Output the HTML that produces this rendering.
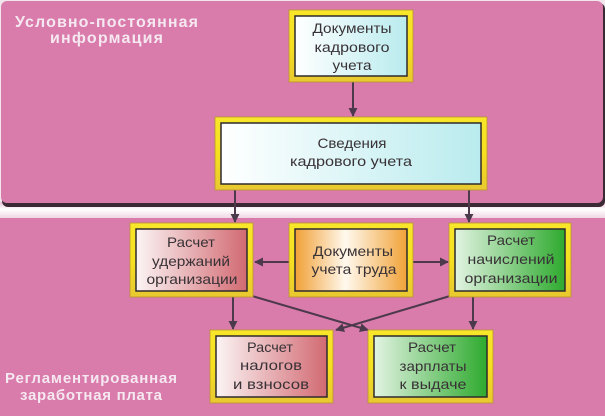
<!DOCTYPE html>
<html><head><meta charset="utf-8"><style>
html,body{margin:0;padding:0;background:#f1e6ec;}
svg{display:block;}
.t{font-family:"Liberation Sans","DejaVu Sans",sans-serif;font-size:14px;fill:#383236;text-anchor:middle;}
.h{font-family:"Liberation Sans","DejaVu Sans",sans-serif;font-weight:bold;fill:#f6e8f0;}
</style></head><body>
<svg width="605" height="416" viewBox="0 0 605 416" xmlns="http://www.w3.org/2000/svg">
<defs>
<linearGradient id="cy" x1="0" x2="1" y1="0" y2="0"><stop offset="0" stop-color="#ffffff"/><stop offset="1" stop-color="#b9ebee"/></linearGradient>
<linearGradient id="rd" x1="0" x2="1" y1="0" y2="0"><stop offset="0" stop-color="#fbf4f4"/><stop offset="1" stop-color="#d26a72"/></linearGradient>
<linearGradient id="or" x1="0" x2="1" y1="0" y2="0"><stop offset="0" stop-color="#f1a036"/><stop offset="0.45" stop-color="#fff9ee"/><stop offset="1" stop-color="#f0a238"/></linearGradient>
<linearGradient id="gr" x1="0" x2="1" y1="0" y2="0"><stop offset="0" stop-color="#e2f3e2"/><stop offset="1" stop-color="#2eaa2e"/></linearGradient>
<linearGradient id="strip" x1="0" x2="0" y1="0" y2="1"><stop offset="0" stop-color="#e6bcd2"/><stop offset="0.45" stop-color="#ffffff"/><stop offset="1" stop-color="#f0d6e3"/></linearGradient>
<linearGradient id="fr" x1="0" x2="0" y1="0" y2="1"><stop offset="0" stop-color="#f8e62a"/><stop offset="0.5" stop-color="#f6e020"/><stop offset="1" stop-color="#e8c830"/></linearGradient>
<marker id="ah" viewBox="0 0 10 10" refX="9" refY="5" markerWidth="4.5" markerHeight="4.5" orient="auto" markerUnits="strokeWidth"><path d="M0,0 L10,5 L0,10 z" fill="#4c3a4c"/></marker>
</defs>

<!-- panels -->
<rect x="0" y="202" width="605" height="16" fill="url(#strip)"/>
<rect x="2" y="3" width="603" height="204" rx="6" fill="#3b2a34"/>
<rect x="1" y="1" width="602" height="202" rx="6" fill="#d97cac"/>
<rect x="0" y="218" width="605" height="198" fill="#d97cac"/>

<!-- titles -->
<text class="h" x="15" y="27" font-size="16" textLength="183" lengthAdjust="spacing">Условно-постоянная</text>
<text class="h" x="50" y="43" font-size="16" textLength="113" lengthAdjust="spacing">информация</text>
<text class="h" x="5" y="383" font-size="15" textLength="172" lengthAdjust="spacing">Регламентированная</text>
<text class="h" x="20" y="400" font-size="15" textLength="142" lengthAdjust="spacing">заработная плата</text>

<!-- connectors -->
<g stroke="#4c3a4c" stroke-width="2" fill="none">
<line x1="353" y1="82" x2="353" y2="116" marker-end="url(#ah)"/>
<line x1="235" y1="190" x2="235" y2="222" marker-end="url(#ah)"/>
<line x1="469" y1="190" x2="469" y2="222" marker-end="url(#ah)"/>
<line x1="289" y1="262" x2="255" y2="262" marker-end="url(#ah)"/>
<line x1="413" y1="262" x2="448" y2="262" marker-end="url(#ah)"/>
<line x1="233" y1="297" x2="233" y2="329" marker-end="url(#ah)"/>
<line x1="473" y1="297" x2="473" y2="329" marker-end="url(#ah)"/>
<line x1="252" y1="296" x2="368" y2="330" marker-end="url(#ah)"/>
<line x1="450" y1="296" x2="336" y2="330" marker-end="url(#ah)"/>
</g>

<!-- boxes -->
<g>
<rect x="289" y="10" width="124" height="72" fill="url(#fr)" stroke="#b89232" stroke-width="0.8"/>
<rect x="295" y="16" width="112" height="60" fill="url(#cy)" stroke="#2e2a2c" stroke-width="1.5"/>

<rect x="215" y="117" width="272" height="73" fill="url(#fr)" stroke="#b89232" stroke-width="0.8"/>
<rect x="221" y="123" width="260" height="61" fill="url(#cy)" stroke="#2e2a2c" stroke-width="1.5"/>

<rect x="130" y="223" width="123" height="74" fill="url(#fr)" stroke="#b89232" stroke-width="0.8"/>
<rect x="136" y="229" width="111" height="62" fill="url(#rd)" stroke="#2e2a2c" stroke-width="1.5"/>

<rect x="289" y="223" width="124" height="74" fill="url(#fr)" stroke="#b89232" stroke-width="0.8"/>
<rect x="295" y="229" width="112" height="62" fill="url(#or)" stroke="#2e2a2c" stroke-width="1.5"/>

<rect x="449" y="223" width="122" height="74" fill="url(#fr)" stroke="#b89232" stroke-width="0.8"/>
<rect x="455" y="229" width="110" height="62" fill="url(#gr)" stroke="#2e2a2c" stroke-width="1.5"/>

<rect x="210" y="330" width="123" height="73" fill="url(#fr)" stroke="#b89232" stroke-width="0.8"/>
<rect x="216" y="336" width="111" height="61" fill="url(#rd)" stroke="#2e2a2c" stroke-width="1.5"/>

<rect x="368" y="330" width="125" height="73" fill="url(#fr)" stroke="#b89232" stroke-width="0.8"/>
<rect x="374" y="336" width="113" height="61" fill="url(#gr)" stroke="#2e2a2c" stroke-width="1.5"/>
</g>

<!-- box texts -->
<text class="t" x="352" y="33" textLength="79" lengthAdjust="spacingAndGlyphs">Документы</text>
<text class="t" x="352" y="52" textLength="75" lengthAdjust="spacingAndGlyphs">кадрового</text>
<text class="t" x="352" y="70" textLength="39" lengthAdjust="spacingAndGlyphs">учета</text>

<text class="t" x="352" y="148" textLength="69" lengthAdjust="spacingAndGlyphs">Сведения</text>
<text class="t" x="351" y="166" textLength="122" lengthAdjust="spacingAndGlyphs">кадрового учета</text>

<text class="t" x="191" y="247" textLength="48" lengthAdjust="spacingAndGlyphs">Расчет</text>
<text class="t" x="191" y="266" textLength="78" lengthAdjust="spacingAndGlyphs">удержаний</text>
<text class="t" x="192" y="284" textLength="91" lengthAdjust="spacingAndGlyphs">организации</text>

<text class="t" x="353" y="256" textLength="80" lengthAdjust="spacingAndGlyphs">Документы</text>
<text class="t" x="354" y="274" textLength="85" lengthAdjust="spacingAndGlyphs">учета труда</text>

<text class="t" x="511" y="245" textLength="48" lengthAdjust="spacingAndGlyphs">Расчет</text>
<text class="t" x="511" y="264" textLength="87" lengthAdjust="spacingAndGlyphs">начислений</text>
<text class="t" x="511" y="283" textLength="93" lengthAdjust="spacingAndGlyphs">организации</text>

<text class="t" x="270" y="352" textLength="46" lengthAdjust="spacingAndGlyphs">Расчет</text>
<text class="t" x="271" y="370" textLength="62" lengthAdjust="spacingAndGlyphs">налогов</text>
<text class="t" x="271" y="389" textLength="76" lengthAdjust="spacingAndGlyphs">и взносов</text>

<text class="t" x="432" y="352" textLength="48" lengthAdjust="spacingAndGlyphs">Расчет</text>
<text class="t" x="433" y="371" textLength="67" lengthAdjust="spacingAndGlyphs">зарплаты</text>
<text class="t" x="433" y="389" textLength="67" lengthAdjust="spacingAndGlyphs">к выдаче</text>
</svg>
</body></html>
